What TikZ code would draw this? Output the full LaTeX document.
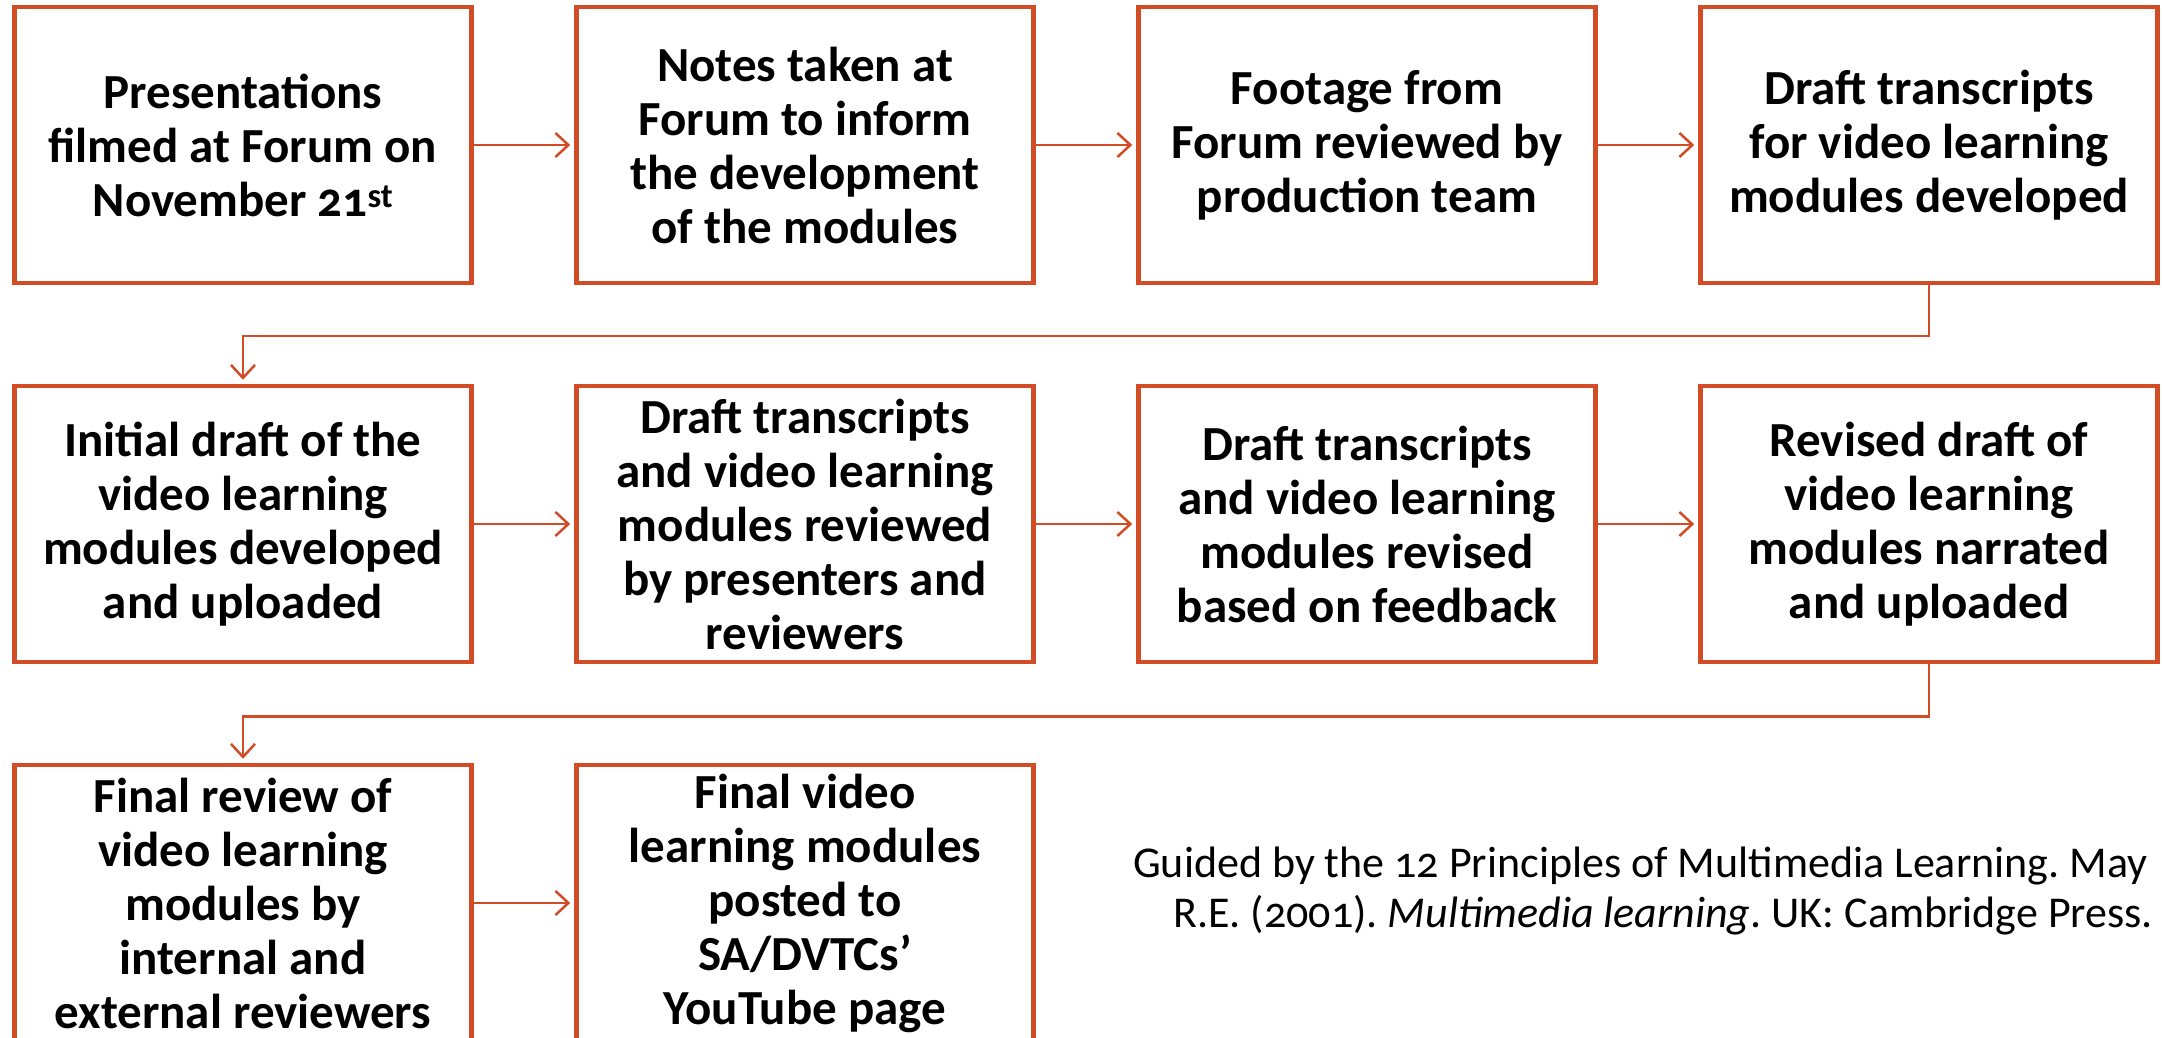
\documentclass[tikz,border=0pt]{standalone}
\usepackage{fontspec}
\setmainfont{Carlito}[Numbers=OldStyle]
\usetikzlibrary{arrows.meta}
\definecolor{acc}{RGB}{210,76,38}
\begin{document}
\frenchspacing
\begin{tikzpicture}[x=1pt,y=1pt,
  box/.style={draw=acc, line width=4.5pt, minimum width=457pt, minimum height=276pt,
    align=center, inner sep=0pt, font=\fontsize{49}{54}\selectfont\bfseries},
  conn/.style={draw=acc, line width=2.5pt, -{Straight Barb[length=13pt,width=24pt]}, shorten >=4pt},
  note/.style={anchor=base west, inner sep=0pt, font=\fontsize{44}{50}\selectfont}]
\useasboundingbox (0,0) rectangle (2162,1037);
\clip (0,0) rectangle (2162,1037);
\node[box] (b1) at (243,892) {Presentations\\filmed at Forum on\\November 21\textsuperscript{st}};
\node[box] (b2) at (805,892) {Notes taken at\\Forum to inform\\the development\\of the modules};
\node[box] (b3) at (1367,892) {Footage from\\Forum reviewed by\\production team};
\node[box] (b4) at (1929,892) {Draft transcripts\\for video learning\\modules developed};
\node[box] (b5) at (243,513) {Initial draft of the\\video learning\\modules developed\\and uploaded};
\node[box] (b6) at (805,513) {Draft transcripts\\and video learning\\modules reviewed\\by presenters and\\reviewers};
\node[box] (b7) at (1367,513) {Draft transcripts\\and video learning\\modules revised\\based on feedback};
\node[box] (b8) at (1929,513) {Revised draft of\\video learning\\modules narrated\\and uploaded};
\node[box] (b9) at (243,134) {Final review of\\video learning\\modules by\\internal and\\external reviewers};
\node[box] (b10) at (805,134) {Final video\\learning modules\\posted to\\SA/DVTCs’\\YouTube page};
\draw[conn] (b1) -- (b2);
\draw[conn] (b2) -- (b3);
\draw[conn] (b3) -- (b4);
\draw[conn] (b4.south) -- ([yshift=-51pt]b4.south) -| (b5.north);
\draw[conn] (b5) -- (b6);
\draw[conn] (b6) -- (b7);
\draw[conn] (b7) -- (b8);
\draw[conn] (b8.south) -- ([yshift=-52pt]b8.south) -| (b9.north);
\draw[conn] (b9) -- (b10);
\node[note] (n1) at (1133,160) {Guided by the 12 Principles of Multimedia Learning. May};
\node[note] (n2) at (1173,110) {R.E. (2001). \textit{Multimedia learning}. UK: Cambridge Press.};
\end{tikzpicture}
\end{document}
